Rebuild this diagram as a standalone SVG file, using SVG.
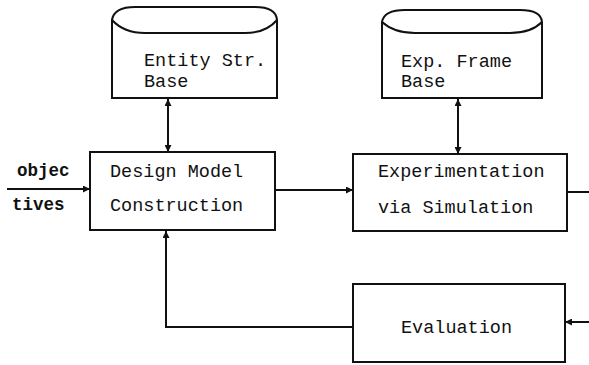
<svg xmlns="http://www.w3.org/2000/svg" width="589" height="365" viewBox="0 0 589 365">
<style>
.box{fill:#fff;stroke:#111;stroke-width:2}
.ln{fill:none;stroke:#111;stroke-width:2}
.t{font-family:"Liberation Mono","DejaVu Sans Mono",monospace;font-size:18.5px;fill:#111}
.s{font-family:"Liberation Mono","DejaVu Sans Mono",monospace;font-size:17.5px;fill:#111;font-weight:bold}
</style>
<defs>
<marker id="ah" viewBox="0 0 10 10" refX="10" refY="5" markerWidth="7" markerHeight="7" markerUnits="userSpaceOnUse" orient="auto-start-reverse">
<path d="M0,0 L10,5 L0,10 z" fill="#111"/>
</marker>
</defs>
<rect width="589" height="365" fill="#fff"/>
<g id="connectors">
<line class="ln" x1="7" y1="189" x2="90" y2="189" marker-end="url(#ah)"/>
<line class="ln" x1="168" y1="99" x2="168" y2="152" marker-start="url(#ah)" marker-end="url(#ah)"/>
<line class="ln" x1="458" y1="99" x2="458" y2="154" marker-start="url(#ah)" marker-end="url(#ah)"/>
<line class="ln" x1="275" y1="190" x2="353" y2="190" marker-end="url(#ah)"/>
<line class="ln" x1="567" y1="192" x2="589" y2="192"/>
<line class="ln" x1="589" y1="322" x2="565" y2="322" marker-end="url(#ah)"/>
<polyline class="ln" points="353,327 166,327 166,231" marker-end="url(#ah)"/>
</g>
<g id="entity-base">
<path class="box" d="M112,20 Q114,7 135,7 L255,7 Q276,7 277,20 L277,98 L112,98 Z"/>
<path class="ln" d="M112,20 Q124,33 145,33 L245,33 Q266,33 277,20"/>
<text class="t" x="144" y="66">Entity Str.</text>
<text class="t" x="144" y="87">Base</text>
</g>
<g id="exp-frame-base">
<path class="box" d="M382,22 Q384,10 405,10 L520,10 Q541,10 542,22 L542,98 L382,98 Z"/>
<path class="ln" d="M382,22 Q394,33 415,33 L510,33 Q531,33 542,22"/>
<text class="t" x="401" y="67">Exp. Frame</text>
<text class="t" x="401" y="87">Base</text>
</g>
<g id="objectives">
<text class="s" x="17" y="176">objec</text>
<text class="s" x="12" y="210">tives</text>
</g>
<g id="design">
<rect class="box" x="90" y="152" width="185" height="78"/>
<text class="t" x="110" y="177">Design Model</text>
<text class="t" x="110" y="211">Construction</text>
</g>
<g id="experimentation">
<rect class="box" x="353" y="154" width="214" height="77"/>
<text class="t" x="378" y="177">Experimentation</text>
<text class="t" x="378" y="213">via Simulation</text>
</g>
<g id="evaluation">
<rect class="box" x="353" y="284" width="212" height="78"/>
<text class="t" x="401" y="333">Evaluation</text>
</g>
</svg>
